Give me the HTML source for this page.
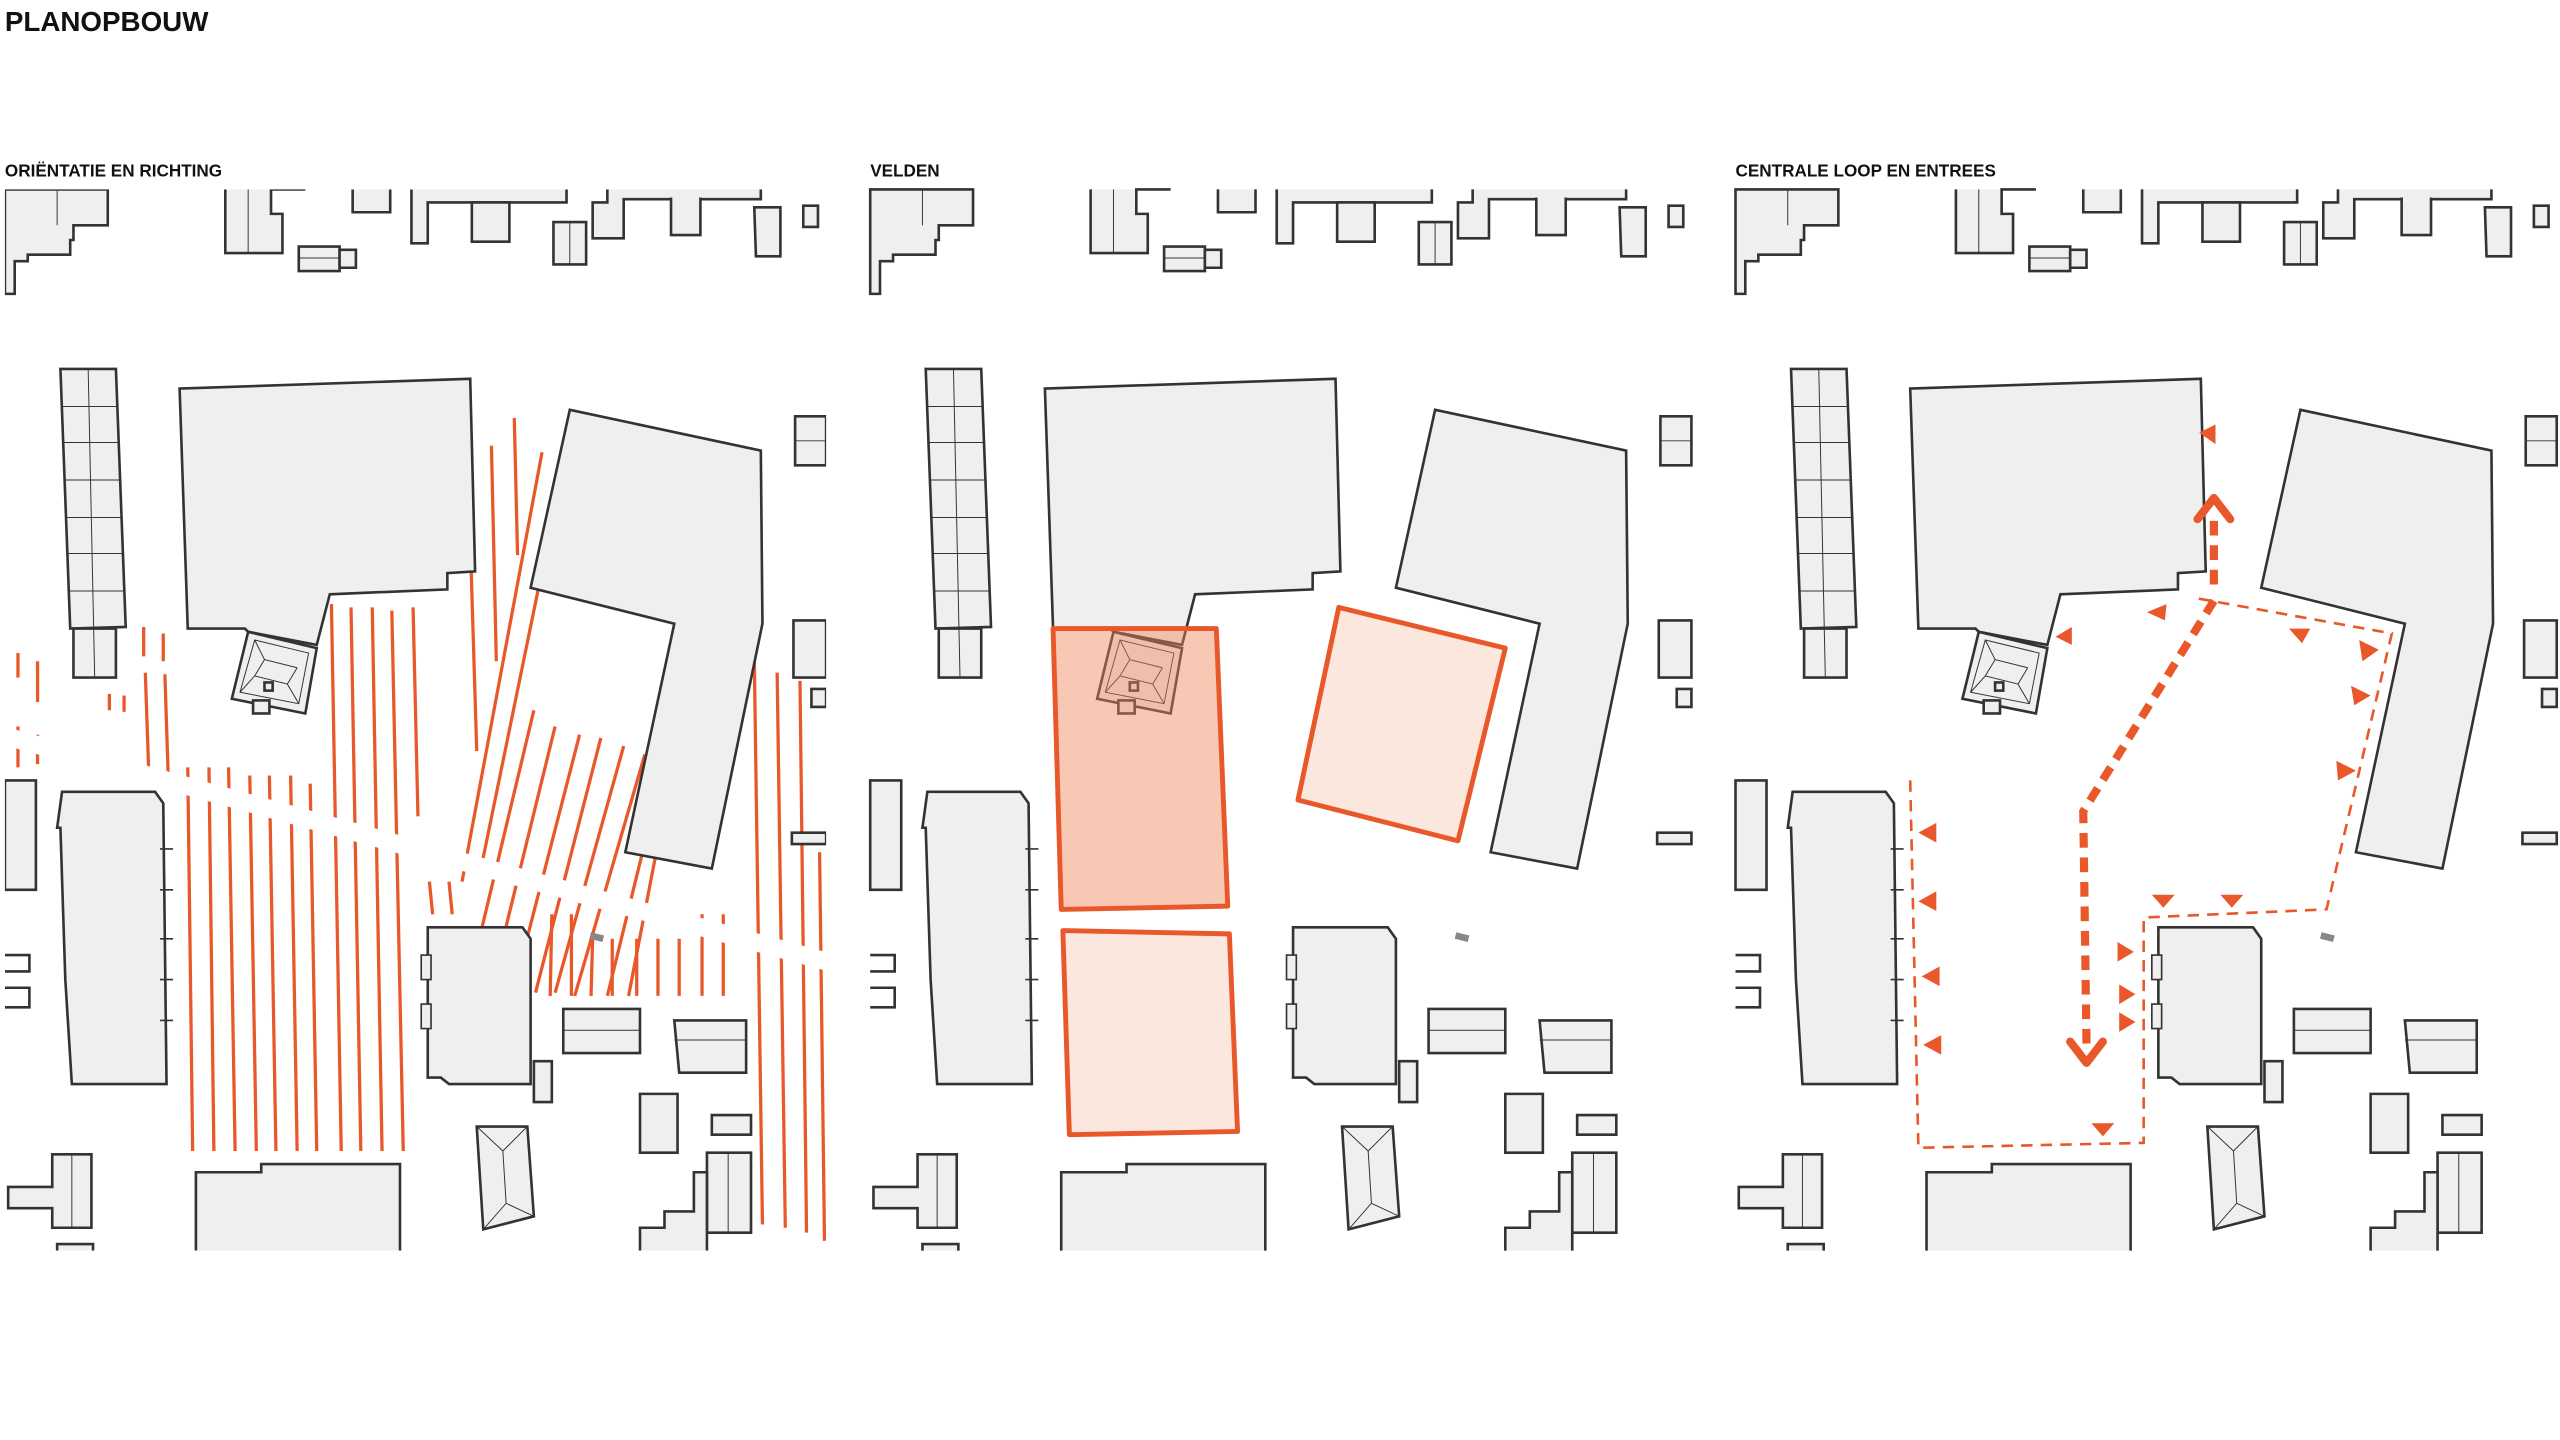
<!DOCTYPE html>
<html><head><meta charset="utf-8"><style>
html,body{margin:0;padding:0;background:#fff;}
svg{display:block}
text{font-family:"Liberation Sans",sans-serif;font-weight:bold;fill:#111}
</style></head><body>
<svg width="2560" height="1440" viewBox="0 0 1568 882" xmlns="http://www.w3.org/2000/svg">
<defs>
<clipPath id="pc"><rect x="3" y="116" width="503" height="650"/></clipPath>
<g id="b" fill="#efefef" stroke="#333" stroke-width="1.6">
 <path d="M3 116 H66 V138 H45 V147 H43 V156 H17 V160 H9 V180 H3 Z"/>
 <path d="M35 116 V138" fill="none" stroke-width="0.6"/>
 <path d="M138 116 V155 H173 V131 H166 V124 H166 V116 H187"/>
 <path d="M152 116 V155" fill="none" stroke-width="0.6"/>
 <path d="M216 116 V130 H239 V116"/>
 <path d="M252 116 V149 H262 V124 H347 V116"/>
 <path d="M289 124 V148 H312 V124 Z"/>
 <path d="M339 136 H359 V162 H339 Z"/><path d="M349 136 V162" stroke-width="0.6"/>
 <path d="M372 116 V124 H363 V146 H382 V122 H466 V116"/>
 <path d="M411 121 V144 H429 V121"/>
 <path d="M462 127 H478 V157 H463 Z"/>
 <path d="M492 126 H501 V139 H492 Z"/>
 <path d="M183 151 H208 V166 H183 Z"/><path d="M183 158 H208" stroke-width="0.6"/><path d="M208 153 H218 V164 H208 Z"/>
 <path d="M37 226 L71 226 L77 384 L43 385 Z"/>
 <path d="M45 385 H71 V415 H45 Z"/>
 <path d="M54 226 L58 415" fill="none" stroke-width="0.6"/>
 <path d="M38 249 H72 M38 271 H73 M39 294 H74 M40 317 H75 M41 339 H75 M42 362 H76" fill="none" stroke-width="0.6"/>
 <path d="M110 238 L288 232 L291 350 L274 351 L274 361 L202 364 L194 395 L152 387 L150 385 L115 385 Z"/>
 <path d="M349 251 L466 276 L467 382 L436 532 L383 522 L413 382 L325 360 Z"/>
 <path d="M152 387 L194 397 L187 437 L142 428 Z"/>
 <path d="M156 392 L189 400 L183 431 L147 424 Z M156 392 L162 404 L182 409 M147 424 L156 414 L176 419 L183 431 M162 404 L156 414 M182 409 L176 419" fill="none" stroke-width="0.6"/>
 <rect x="162" y="418" width="5" height="5"/>
 <rect x="155" y="429" width="10" height="8"/>
 <path d="M38 485 H95 L100 492 L102 664 H44 L40 600 L37 507 H35 Z"/>
 <path d="M98 520 H106 M98 545 H106 M98 575 H106 M98 600 H106 M98 625 H106" stroke-width="1"/>
 <path d="M3 478 H22 V545 H3 Z"/>
 <path d="M3 585 H18 V595 H3 M3 605 H18 V617 H3" fill="none"/>
 <path d="M262 568 H320 L325 575 V664 H275 L270 660 H262 Z"/>
 <path d="M258 585 H264 V600 H258 Z M258 615 H264 V630 H258 Z" stroke-width="1"/>
 <path d="M327 650 H338 V675 H327 Z"/>
 <path d="M345 618 H392 V645 H345 Z"/><path d="M345 631 H392" stroke-width="0.6"/>
 <path d="M413 625 H457 V657 H416 Z"/><path d="M413 637 H457" stroke-width="0.6"/>
 <path d="M487 255 H506 V285 H487 Z"/><path d="M487 270 H506" stroke-width="0.6"/>
 <path d="M486 380 H506 V415 H486 Z"/>
 <path d="M497 422 H506 V433 H497 Z"/>
 <path d="M485 510 H506 V517 H485 Z"/>
 <path d="M392 670 H415 V706 H392 Z"/>
 <path d="M436 683 H460 V695 H436 Z"/>
 <path d="M433 706 H460 V755 H433 Z"/><path d="M446 706 V755" stroke-width="0.6"/>
 <path d="M392 766 V752 H407 V742 H425 V718 H433 V766"/>
 <path d="M292 690 H323 L327 745 L296 753 Z"/>
 <path d="M292 690 L308 705 L323 690 M308 705 L310 737 L296 753 M310 737 L327 745" fill="none" stroke-width="0.6"/>
 <path d="M120 766 V718 H160 V713 H245 V766"/>
 <path d="M5 727 H32 V707 H56 V752 H32 V740 H5 Z"/><path d="M44 707 V752" stroke-width="0.6"/>
 <path d="M35 766 V762 H57 V766"/>
 <path d="M362 571 L370 573 L369 577 L361 575 Z" fill="#888" stroke="none"/>
</g>
</defs>
<text x="3" y="19" font-size="17">PLANOPBOUW</text>
<text x="3" y="108" font-size="10.5">ORIËNTATIE EN RICHTING</text>
<text x="533" y="108" font-size="10.5">VELDEN</text>
<text x="1063" y="108" font-size="10.5">CENTRALE LOOP EN ENTREES</text>

<!-- Panel 1 -->
<g clip-path="url(#pc)">
<g stroke="#e8582a" stroke-width="2" fill="none">
 <path d="M11 400 V415 M23 405 V430 M11 445 V470 M23 450 V468 M67 425 V435 M76 426 V436 M88 384 V402 M100 388 V405"/>
 <path d="M89 412 L91 470 M101 413 L103 475"/>
 <path d="M115 470 L118 705 M128 470 L131 705 M140 470 L144 705 M153 475 L157 705 M165 475 L169 705 M178 475 L182 705 M190 480 L194 705 M203 370 L209 705 M215 372 L221 705 M228 372 L234 705 M240 374 L247 705 M253 372 L256 500"/>
 <path d="M285 232 L292 460 M301 273 L304 405 M315 256 L317 340 M332 277 L283 540 M343 296 L295 530"/>
 <path d="M327 435 L290 590 M340 445 L302 600 M355 450 L315 605 M368 452 L328 608 M382 457 L340 608 M395 462 L352 610 M408 463 L372 610 M412 470 L385 610"/>
 <path d="M263 540 L265 560 M275 540 L277 560 M338 560 L337 610 M350 560 L350 610 M363 575 L362 610 M375 575 L375 610 M390 575 L390 610 M403 575 L403 610 M416 575 L416 610 M430 560 L430 610 M443 560 L443 610"/>
 <path d="M462 403 L467 750 M476 412 L481 752 M490 417 L494 755 M502 522 L505 760"/>
</g>
<path d="M0 450 L510 590" stroke="#fff" stroke-width="11"/>
<use href="#b"/>
</g>

<!-- Panel 2 -->
<use href="#b" transform="translate(530,0)"/>
<g stroke="#e8582a" stroke-width="3" stroke-linejoin="round">
 <path d="M645 385 L745 385 L752 555 L650 557 Z" fill="#f0855a" fill-opacity="0.45"/>
 <path d="M651 570 L753 572 L758 693 L655 695 Z" fill="#f8d3c2" fill-opacity="0.55"/>
 <path d="M820 372 L922 397 L893 515 L795 490 Z" fill="#f8d3c2" fill-opacity="0.55"/>
</g>

<!-- Panel 3 -->
<use href="#b" transform="translate(1060,0)"/>
<g fill="none" stroke="#e8582a">
 <path d="M1170 478 L1175 703 L1313 700 L1313 562 L1425 557 L1465 388 L1343 366" stroke-width="1.6" stroke-dasharray="7 5"/>
 <path d="M1356 358 V318 M1356 368 L1276 497 L1278 640" stroke-width="5" stroke-dasharray="9 6"/>
 <path d="M1346 318 L1356 305 L1366 318 M1268 638 L1278 651 L1288 638" stroke-width="5" stroke-linecap="round" stroke-linejoin="round"/>
</g>
<g fill="#e8582a">
 <path d="M1347 265 L1357 260 L1357 272 Z"/>
 <path d="M1259 390 L1269 384 L1269 395 Z"/>
 <path d="M1315 375 L1327 370 L1326 380 Z"/>
 <path d="M1402 385 L1415 385 L1410 394 Z"/>
 <path d="M1445 392 L1457 398 L1447 405 Z"/>
 <path d="M1440 420 L1452 426 L1442 432 Z"/>
 <path d="M1431 466 L1443 472 L1432 478 Z"/>
 <path d="M1175 510 L1186 504 L1186 516 Z"/>
 <path d="M1175 552 L1186 546 L1186 558 Z"/>
 <path d="M1177 598 L1188 592 L1188 604 Z"/>
 <path d="M1178 640 L1189 634 L1189 646 Z"/>
 <path d="M1318 548 L1332 548 L1325 556 Z"/>
 <path d="M1360 548 L1374 548 L1367 556 Z"/>
 <path d="M1297 577 L1307 583 L1297 589 Z"/>
 <path d="M1298 603 L1308 609 L1298 615 Z"/>
 <path d="M1298 620 L1308 626 L1298 632 Z"/>
 <path d="M1281 688 L1295 688 L1288 696 Z"/>
</g>
</svg>
</body></html>
